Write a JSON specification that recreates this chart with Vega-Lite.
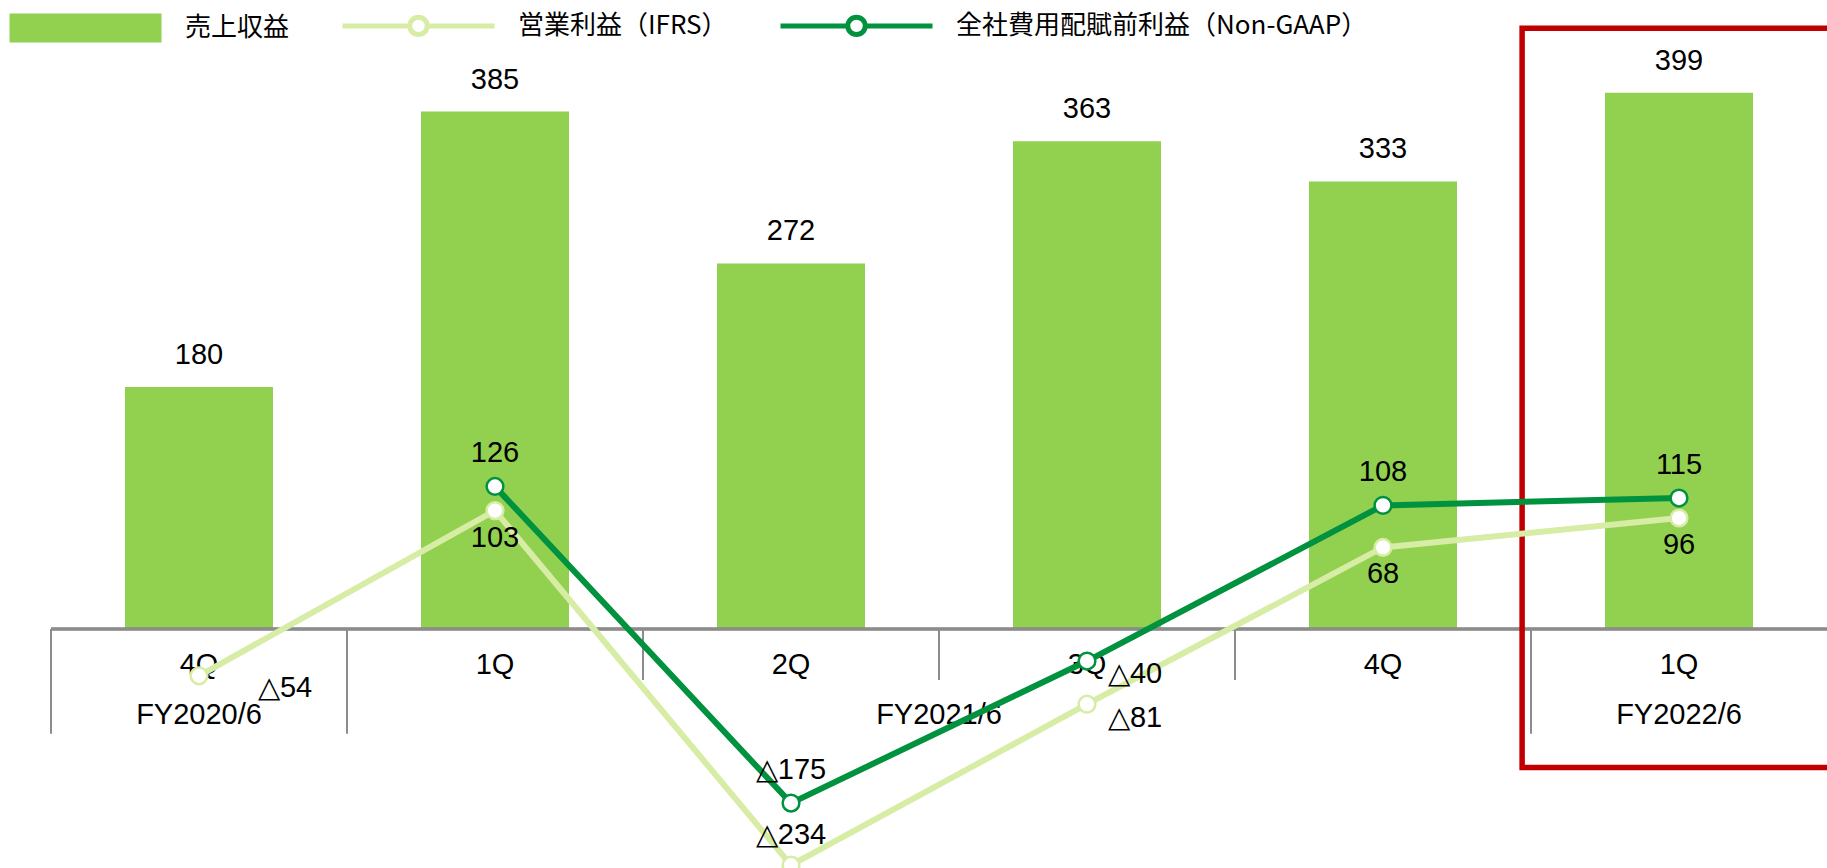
{
  "$schema": "https://vega.github.io/schema/vega-lite/v6.json",
  "width": 1776,
  "height": 868,
  "autosize": "none",
  "padding": {"left": 51, "top": 0, "right": 0, "bottom": 0},
  "background": "white",
  "config": {"view": {"stroke": null}, "font": "Liberation Sans"},
  "data": {"values": [
    {"fy": "FY2020/6", "q": "4Q", "key": "FY2020/6 4Q", "revenue": 180, "op_ifrs": -54, "op_nongaap": null},
    {"fy": "FY2021/6", "q": "1Q", "key": "FY2021/6 1Q", "revenue": 385, "op_ifrs": 103, "op_nongaap": 126},
    {"fy": "FY2021/6", "q": "2Q", "key": "FY2021/6 2Q", "revenue": 272, "op_ifrs": -234, "op_nongaap": -175},
    {"fy": "FY2021/6", "q": "3Q", "key": "FY2021/6 3Q", "revenue": 363, "op_ifrs": -81, "op_nongaap": -40},
    {"fy": "FY2021/6", "q": "4Q", "key": "FY2021/6 4Q", "revenue": 333, "op_ifrs": 68, "op_nongaap": 108},
    {"fy": "FY2022/6", "q": "1Q", "key": "FY2022/6 1Q", "revenue": 399, "op_ifrs": 96, "op_nongaap": 115}
  ]},
  "layer": [
    {
      "layer": [
        {
          "mark": {"type": "bar", "width": {"band": 0.5}},
          "encoding": {
            "x": {"field": "key", "type": "nominal", "sort": null, "axis": null,
                  "scale": {"domain": ["FY2020/6 4Q", "FY2021/6 1Q", "FY2021/6 2Q", "FY2021/6 3Q", "FY2021/6 4Q", "FY2022/6 1Q"], "paddingInner": 0, "paddingOuter": 0}},
            "y": {"field": "revenue", "type": "quantitative", "axis": null,
                  "scale": {"domain": [-177.8, 468], "nice": false, "zero": false}},
            "color": {"datum": "売上収益",
              "scale": {"domain": ["売上収益", "営業利益（IFRS）", "全社費用配賦前利益（Non-GAAP）"], "range": ["#92d050", "#d7eca5", "#00923f"]},
              "legend": {"orient": "none", "legendX": -44, "legendY": -69, "offset": 0, "direction": "horizontal", "columns": 3, "title": null,
                "labelFont": "Noto Sans CJK JP", "labelFontSize": 26, "labelColor": "black", "labelOffset": 21, "columnPadding": 42,
                "labelLimit": 800, "symbolSize": 23104, "symbolStrokeWidth": 5, "padding": 0,
                "encode": {"symbols": {"update": {
                  "shape": {"signal": "datum.value === '売上収益' ? 'M-1,-0.19H1V0.19H-1Z' : 'M-1,0H-0.115M0.115,0H1M0.115,0A0.115,0.115 0 1,1 -0.115,0A0.115,0.115 0 1,1 0.115,0Z'"},
                  "fill": {"signal": "datum.value === '売上収益' ? '#9ac524' : 'white'"},
                  "fillOpacity": {"signal": "datum.value === '売上収益' ? 1 : 0"},
                  "stroke": {"signal": "datum.value === '売上収益' ? '#9ac524' : (datum.value === '営業利益（IFRS）' ? '#d3ea9c' : '#0b8a1e')"},
                  "strokeOpacity": {"signal": "datum.value === '売上収益' ? 0 : 1"},
                  "strokeWidth": {"value": 5},
                  "opacity": {"value": 1},
                  "size": {"value": 23104}
                }}}
              }}
          }
        },
        {
          "mark": {"type": "rule", "color": "#8c8c8c", "strokeWidth": 2.5},
          "encoding": {"y": {"datum": 0}}
        },
        {
          "transform": [{"filter": "datum.q === '1Q' || datum.key === 'FY2020/6 4Q'"}],
          "mark": {"type": "rule", "color": "#8c8c8c", "strokeWidth": 2},
          "encoding": {"x": {"field": "key", "type": "nominal", "bandPosition": 0}, "y": {"datum": 0}, "y2": {"datum": -78}}
        },
        {
          "transform": [{"filter": "datum.q !== '1Q' && datum.key !== 'FY2020/6 4Q'"}],
          "mark": {"type": "rule", "color": "#8c8c8c", "strokeWidth": 2},
          "encoding": {"x": {"field": "key", "type": "nominal", "bandPosition": 0}, "y": {"datum": 0}, "y2": {"datum": -38}}
        },
        {
          "mark": {"type": "text", "fontSize": 29, "dy": -32, "baseline": "middle", "align": "center", "color": "black"},
          "encoding": {"x": {"field": "key", "type": "nominal"}, "y": {"field": "revenue", "type": "quantitative"}, "text": {"field": "revenue", "type": "quantitative"}}
        },
        {
          "mark": {"type": "text", "fontSize": 29, "dy": 36, "baseline": "middle", "align": "center", "color": "black"},
          "encoding": {"x": {"field": "key", "type": "nominal"}, "y": {"datum": 0}, "text": {"field": "q", "type": "nominal"}}
        },
        {
          "transform": [{"filter": "datum.key === 'FY2020/6 4Q' || datum.key === 'FY2022/6 1Q'"}],
          "mark": {"type": "text", "fontSize": 29, "dy": 86, "baseline": "middle", "align": "center", "color": "black"},
          "encoding": {"x": {"field": "key", "type": "nominal"}, "y": {"datum": 0}, "text": {"field": "fy", "type": "nominal"}}
        },
        {
          "transform": [{"filter": "datum.key === 'FY2021/6 2Q'"}],
          "mark": {"type": "text", "fontSize": 29, "dy": 86, "baseline": "middle", "align": "center", "color": "black"},
          "encoding": {"x": {"field": "key", "type": "nominal", "bandPosition": 1}, "y": {"datum": 0}, "text": {"field": "fy", "type": "nominal"}}
        },
        {
          "data": {"values": [{}]},
          "mark": {"type": "rect", "filled": false, "stroke": "#c00000", "strokeWidth": 5.5},
          "encoding": {
            "x": {"datum": "FY2022/6 1Q", "bandPosition": -0.03},
            "x2": {"datum": "FY2022/6 1Q", "bandPosition": 1.1},
            "y": {"datum": 447},
            "y2": {"datum": -103}
          }
        }
      ]
    },
    {
      "transform": [
        {"fold": ["op_ifrs", "op_nongaap"], "as": ["m", "value"]},
        {"filter": "isValid(datum.value)"},
        {"calculate": "datum.m === 'op_ifrs' ? '営業利益（IFRS）' : '全社費用配賦前利益（Non-GAAP）'", "as": "series"},
        {"calculate": "datum.value < 0 ? '△' + abs(datum.value) : '' + datum.value", "as": "label"}
      ],
      "layer": [
        {
          "mark": {"type": "line", "strokeWidth": 6},
          "encoding": {
            "x": {"field": "key", "type": "nominal"},
            "y": {"field": "value", "type": "quantitative", "axis": null, "scale": {"domain": [-236.7, 588.4], "nice": false, "zero": false}},
            "color": {"field": "series", "type": "nominal",
              "scale": {"domain": ["売上収益", "営業利益（IFRS）", "全社費用配賦前利益（Non-GAAP）"], "range": ["#92d050", "#d7eca5", "#00923f"]}}
          }
        },
        {
          "mark": {"type": "point", "filled": false, "fill": "white", "size": 280, "strokeWidth": 2.5, "opacity": 1},
          "encoding": {
            "x": {"field": "key", "type": "nominal"},
            "y": {"field": "value", "type": "quantitative"},
            "color": {"field": "series", "type": "nominal"}
          }
        },
        {
          "transform": [{"filter": "datum.m === 'op_nongaap' && datum.key !== 'FY2021/6 3Q'"}],
          "mark": {"type": "text", "fontSize": 29, "dy": -33, "baseline": "middle", "align": "center", "color": "black"},
          "encoding": {"x": {"field": "key", "type": "nominal"}, "y": {"field": "value", "type": "quantitative"}, "text": {"field": "label", "type": "nominal"}}
        },
        {
          "transform": [{"filter": "datum.m === 'op_nongaap' && datum.key === 'FY2021/6 3Q'"}],
          "mark": {"type": "text", "fontSize": 29, "dx": 48, "dy": 13, "baseline": "middle", "align": "center", "color": "black"},
          "encoding": {"x": {"field": "key", "type": "nominal"}, "y": {"field": "value", "type": "quantitative"}, "text": {"field": "label", "type": "nominal"}}
        },
        {
          "transform": [{"filter": "datum.m === 'op_ifrs' && datum.value > 0"}],
          "mark": {"type": "text", "fontSize": 29, "dy": 27, "baseline": "middle", "align": "center", "color": "black"},
          "encoding": {"x": {"field": "key", "type": "nominal"}, "y": {"field": "value", "type": "quantitative"}, "text": {"field": "label", "type": "nominal"}}
        },
        {
          "transform": [{"filter": "datum.m === 'op_ifrs' && datum.key === 'FY2021/6 2Q'"}],
          "mark": {"type": "text", "fontSize": 29, "dy": -30, "baseline": "middle", "align": "center", "color": "black"},
          "encoding": {"x": {"field": "key", "type": "nominal"}, "y": {"field": "value", "type": "quantitative"}, "text": {"field": "label", "type": "nominal"}}
        },
        {
          "transform": [{"filter": "datum.m === 'op_ifrs' && datum.key === 'FY2021/6 3Q'"}],
          "mark": {"type": "text", "fontSize": 29, "dx": 48, "dy": 14, "baseline": "middle", "align": "center", "color": "black"},
          "encoding": {"x": {"field": "key", "type": "nominal"}, "y": {"field": "value", "type": "quantitative"}, "text": {"field": "label", "type": "nominal"}}
        },
        {
          "transform": [{"filter": "datum.m === 'op_ifrs' && datum.key === 'FY2020/6 4Q'"}],
          "mark": {"type": "text", "fontSize": 29, "dx": 86, "dy": 12, "baseline": "middle", "align": "center", "color": "black"},
          "encoding": {"x": {"field": "key", "type": "nominal"}, "y": {"field": "value", "type": "quantitative"}, "text": {"field": "label", "type": "nominal"}}
        }
      ]
    }
  ],
  "resolve": {"scale": {"y": "independent"}}
}
